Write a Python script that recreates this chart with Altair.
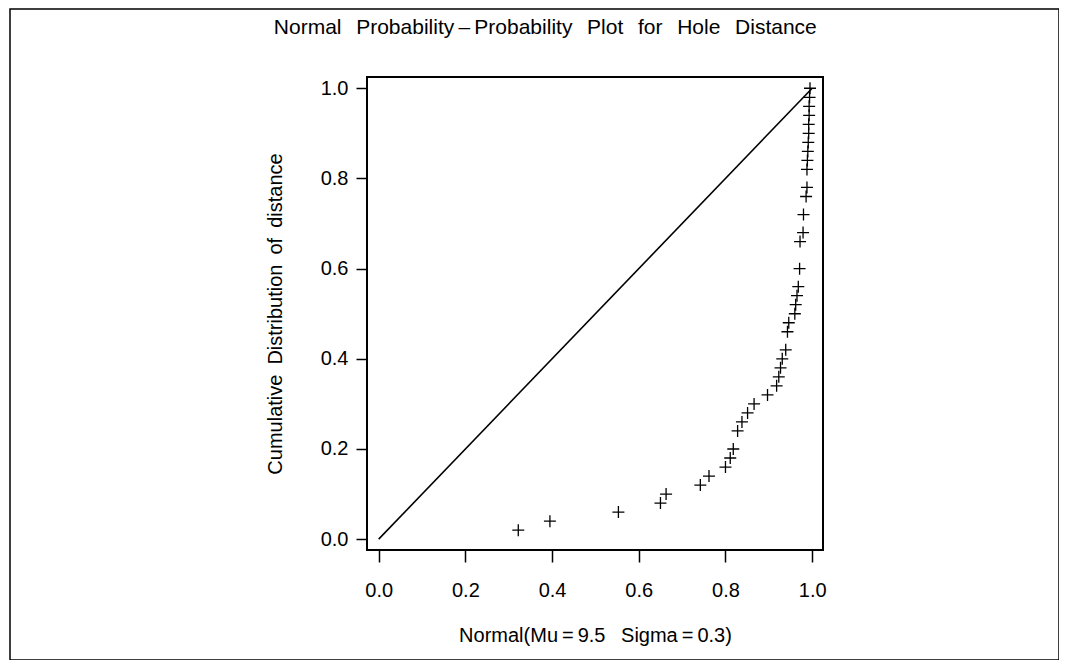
import altair as alt
import pandas as pd

# Data
normal_cdf = [0.322, 0.395, 0.553, 0.650, 0.663, 0.742, 0.762, 0.800, 0.811, 0.818,
              0.828, 0.838, 0.851, 0.866, 0.897, 0.918, 0.923, 0.927, 0.931, 0.939,
              0.943, 0.946, 0.960, 0.962, 0.965, 0.968, 0.971, 0.972, 0.979, 0.980,
              0.986, 0.988, 0.988, 0.989, 0.990, 0.991, 0.992, 0.992, 0.993, 0.993,
              0.994, 0.995]
empirical_cdf = [0.02, 0.04, 0.06, 0.08, 0.10, 0.12, 0.14, 0.16, 0.18, 0.20,
                 0.24, 0.26, 0.28, 0.30, 0.32, 0.34, 0.36, 0.38, 0.40, 0.42,
                 0.46, 0.48, 0.50, 0.52, 0.54, 0.56, 0.60, 0.66, 0.68, 0.72,
                 0.76, 0.78, 0.82, 0.84, 0.86, 0.88, 0.90, 0.92, 0.94, 0.96,
                 0.98, 1.00]
ref_x = [0.0, 1.0]
ref_y = [0.0, 1.0]
tick_values = [0.0, 0.2, 0.4, 0.6, 0.8, 1.0]

pts = pd.DataFrame({"x": normal_cdf, "y": empirical_cdf})
ref = pd.DataFrame({"x": ref_x, "y": ref_y})

FONT = "Liberation Sans"
FS = 20
W, H = 456, 473

xscale = alt.Scale(domain=[-0.027, 1.025], nice=False, zero=False)
yscale = alt.Scale(domain=[-0.024, 1.025], nice=False, zero=False)

xaxis = alt.Axis(values=tick_values, format=".1f",
                 title="Normal(Mu\u2009=\u20099.5\u2002 Sigma\u2009=\u20090.3)",
                 grid=False, domain=False, tickColor="black", tickSize=12, tickWidth=1.5,
                 labelFont=FONT, labelFontSize=FS, labelColor="black", labelPadding=18,
                 titleFont=FONT, titleFontSize=FS, titleFontWeight="normal",
                 titleColor="black", titlePadding=25)
yaxis = alt.Axis(values=tick_values, format=".1f",
                 title="Cumulative\u2002Distribution\u2002of\u2002distance",
                 grid=False, domain=False, tickColor="black", tickSize=11, tickWidth=1.5,
                 labelFont=FONT, labelFontSize=FS, labelColor="black", labelPadding=8,
                 titleFont=FONT, titleFontSize=FS, titleFontWeight="normal",
                 titleColor="black", titlePadding=35)

line = alt.Chart(ref).mark_line(color="black", strokeWidth=1.6, clip=True).encode(
    x=alt.X("x:Q", scale=xscale, axis=xaxis),
    y=alt.Y("y:Q", scale=yscale, axis=yaxis),
)

plus = alt.Chart(pts).mark_point(
    shape="M-1,0L1,0M0,-1L0,1", size=144, filled=False, color="black",
    strokeWidth=1.3, opacity=1,
).encode(
    x=alt.X("x:Q", scale=xscale),
    y=alt.Y("y:Q", scale=yscale),
)

one = pd.DataFrame({"a": [0]})

frame = alt.Chart(one).mark_rect(
    fill=None, stroke="black", strokeWidth=2, clip=False
).encode(x=alt.value(0), x2=alt.value(W), y=alt.value(0), y2=alt.value(H))

border = alt.Chart(one).mark_rect(
    fill=None, stroke="black", strokeWidth=1.5, clip=False
).encode(
    x=alt.value(-357), x2=alt.value(1051 - 359),
    y=alt.value(-68), y2=alt.value(652 - 69),
)

SP = "\u2002\u2009"
title_txt = alt.Chart(one).mark_text(
    text=SP.join(["Normal", "Probability\u2009\u2013\u2009Probability", "Plot", "for", "Hole", "Distance"]),
    font=FONT, fontSize=21, color="black", align="center", baseline="middle",
).encode(x=alt.value(545 - 366.7), y=alt.value(28 - 77))

chart = alt.layer(line, plus, frame, border, title_txt).properties(
    width=W, height=H,
    autosize=alt.AutoSizeParams(type="none"),
    padding={"left": 359, "top": 69, "right": 236, "bottom": 110},
).configure_view(stroke=None).configure(background="white")

chart.save("out.html", embed_options={"renderer": "svg", "actions": False})
